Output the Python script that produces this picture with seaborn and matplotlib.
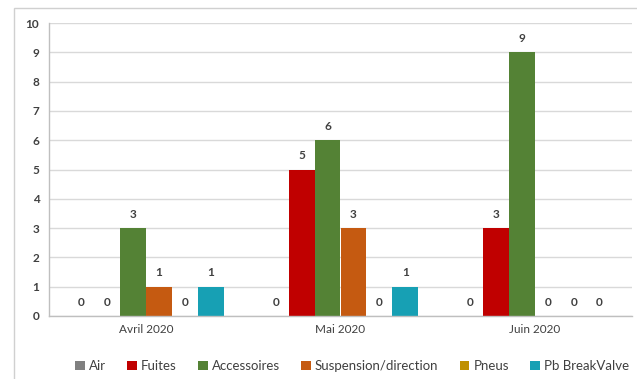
import matplotlib
matplotlib.use("Agg")
import matplotlib.pyplot as plt
from matplotlib.patches import Rectangle
from matplotlib.ticker import FixedLocator
import pandas as pd
import seaborn as sns

# -----------------------------
# Data
# -----------------------------
mois = ["Avril 2020", "Mai 2020", "Juin 2020"]
types = ["Air", "Fuites", "Accessoires", "Suspension/direction", "Pneus", "Pb BreakValve"]
air = [0, 0, 0]
fuites = [0, 5, 3]
accessoires = [3, 6, 9]
suspension = [1, 3, 0]
pneus = [0, 0, 0]
breakvalve = [1, 1, 0]

couleurs = ["#808080", "#C00000", "#548235", "#C55A11", "#BF9000", "#17A0B4"]

series = [air, fuites, accessoires, suspension, pneus, breakvalve]
rows = []
for t, vals in zip(types, series):
    for m, v in zip(mois, vals):
        rows.append({"mois": m, "type": t, "valeur": v})
df = pd.DataFrame(rows)

# -----------------------------
# Figure
# -----------------------------
sns.set_style("white")
plt.rcParams["font.family"] = ["Lato", "DejaVu Sans"]

fig = plt.figure(figsize=(6.37, 3.79), dpi=100)
ax = fig.add_axes([49 / 637, 1 - 316 / 379, 583 / 637, 293 / 379])

# cadre du graphique
fig.patches.append(Rectangle((14 / 637, -0.05), 1.0, 1 - 8 / 379 + 0.05,
                             transform=fig.transFigure, fill=False,
                             edgecolor="#D0D0D0", linewidth=1.0))

sns.barplot(data=df, x="mois", y="valeur", hue="type", order=mois,
            hue_order=types, palette=couleurs, width=0.8, gap=0,
            saturation=1, ax=ax, legend=True, errorbar=None, linewidth=0)

for cont in ax.containers:
    ax.bar_label(cont, fmt="%d", padding=6, fontsize=8.5, color="#404040",
                 fontweight="bold")

ax.set_ylim(0, 10)
ax.set_xlim(-0.5, 2.5)
ax.set_yticks(range(0, 11))
ax.yaxis.grid(True, color="#D9D9D9", linewidth=1.0)
ax.set_axisbelow(True)
ax.set_xlabel("")
ax.set_ylabel("")

for s in ["top", "right"]:
    ax.spines[s].set_visible(False)
for s in ["left", "bottom"]:
    ax.spines[s].set_color("#BFBFBF")
    ax.spines[s].set_linewidth(1.0)

ax.tick_params(axis="y", length=4, color="#BFBFBF", labelsize=8.5,
               labelcolor="#404040", pad=3)
ax.tick_params(axis="x", length=0, labelsize=8.5, labelcolor="#404040", pad=6)
ax.xaxis.set_minor_locator(FixedLocator([0.5, 1.5]))
ax.tick_params(axis="x", which="minor", length=4, color="#BFBFBF")
for lab in ax.get_yticklabels():
    lab.set_fontweight("bold")

leg = ax.legend(loc="upper center", bbox_to_anchor=(0.52, -0.11), ncol=6,
                frameon=False, fontsize=9.5, handlelength=0.75,
                handleheight=0.75, handletextpad=0.3, columnspacing=1.6)
for txt in leg.get_texts():
    txt.set_color("#404040")

fig.savefig("out.png", dpi=100)
